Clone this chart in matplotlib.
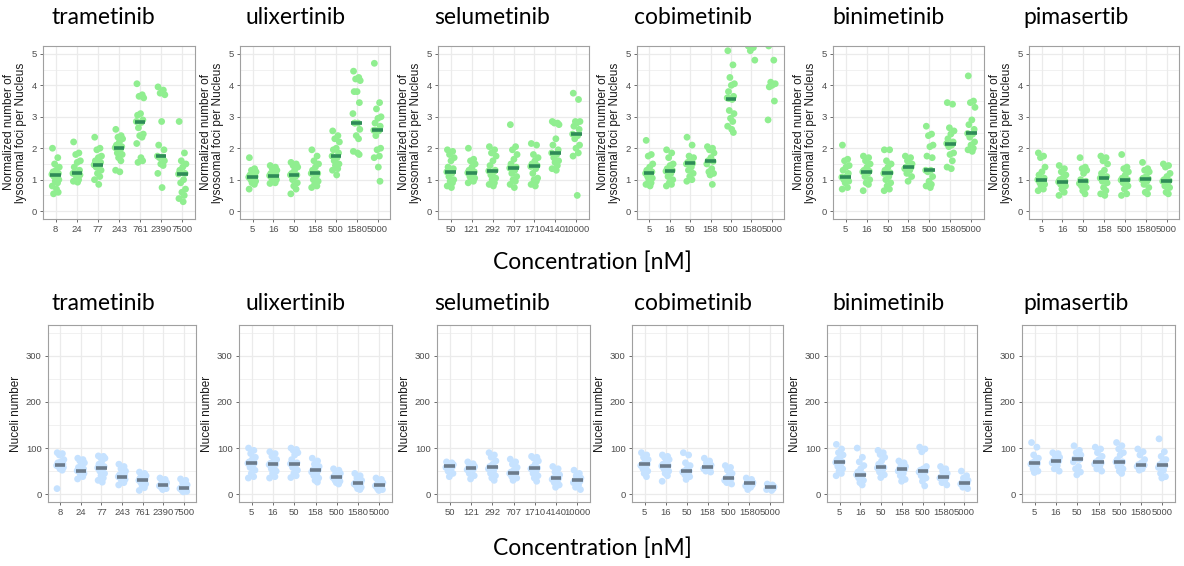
import matplotlib
matplotlib.use("Agg")
import matplotlib.pyplot as plt
import numpy as np

plt.rcParams["font.family"] = ["Liberation Sans", "DejaVu Sans"]

drugs = ["trametinib", "ulixertinib", "selumetinib", "cobimetinib", "binimetinib", "pimasertib"]

conc_trametinib = ["8", "24", "77", "243", "761", "2390", "7500"]
conc_selumetinib = ["50", "121", "292", "707", "1710", "4140", "10000"]
conc_other = ["5", "16", "50", "158", "500", "1580", "5000"]
concs = [conc_trametinib, conc_other, conc_selumetinib, conc_other, conc_other, conc_other]

# normalized lysosomal foci per nucleus (top row)
foci_trametinib = [
    [2.0, 1.7, 1.5, 1.4, 1.3, 1.25, 1.2, 1.17, 1.15, 1.1, 1.0, 0.95, 0.9, 0.8, 0.7, 0.6, 0.55],
    [2.2, 1.85, 1.8, 1.6, 1.55, 1.4, 1.3, 1.2, 1.2, 1.2, 1.15, 1.1, 1.0, 0.95, 0.92],
    [2.35, 2.0, 1.95, 1.75, 1.7, 1.6, 1.55, 1.47, 1.45, 1.4, 1.3, 1.2, 1.1, 1.0, 0.85],
    [2.6, 2.4, 2.35, 2.3, 2.2, 2.1, 2.05, 2.02, 1.95, 1.85, 1.8, 1.7, 1.6, 1.3, 1.25],
    [4.05, 3.7, 3.65, 3.6, 3.1, 3.05, 2.9, 2.85, 2.82, 2.65, 2.45, 2.4, 2.35, 2.15, 1.7, 1.6, 1.55],
    [3.95, 3.85, 3.75, 3.7, 2.85, 2.1, 1.95, 1.75, 1.72, 1.7, 1.6, 1.5, 1.45, 1.2, 0.75],
    [2.85, 1.85, 1.6, 1.5, 1.4, 1.3, 1.2, 1.18, 1.0, 0.9, 0.7, 0.6, 0.5, 0.4, 0.3],
]
foci_ulixertinib = [
    [1.7, 1.35, 1.3, 1.25, 1.2, 1.15, 1.1, 1.08, 1.05, 1.0, 0.95, 0.9, 0.85, 0.7, 1.08],
    [1.45, 1.4, 1.35, 1.3, 1.25, 1.2, 1.15, 1.13, 1.1, 1.05, 1.0, 0.95, 0.9, 0.88, 1.13],
    [1.55, 1.5, 1.45, 1.4, 1.3, 1.2, 1.15, 1.15, 1.1, 1.0, 0.9, 0.8, 0.7, 0.55, 1.15],
    [1.95, 1.75, 1.6, 1.5, 1.4, 1.3, 1.2, 1.2, 1.1, 1.0, 0.95, 0.85, 0.8, 0.75, 1.2],
    [2.55, 2.4, 2.3, 2.2, 2.0, 1.95, 1.85, 1.75, 1.7, 1.6, 1.5, 1.45, 1.35, 1.3, 1.15],
    [4.45, 4.25, 4.2, 4.15, 3.8, 3.8, 3.45, 3.1, 2.8, 2.8, 2.6, 2.4, 2.3, 1.9, 1.85, 1.8, 2.8],
    [4.7, 3.45, 3.25, 3.0, 2.95, 2.8, 2.7, 2.57, 2.55, 2.4, 2.0, 1.95, 1.75, 1.7, 1.4, 0.95, 2.57],
]
foci_selumetinib = [
    [1.95, 1.9, 1.8, 1.7, 1.6, 1.4, 1.35, 1.25, 1.2, 1.1, 1.0, 0.95, 0.9, 0.8, 0.75],
    [2.0, 1.65, 1.6, 1.5, 1.4, 1.3, 1.25, 1.22, 1.15, 1.1, 1.05, 1.0, 0.95, 0.9, 1.22],
    [2.05, 1.95, 1.85, 1.75, 1.6, 1.45, 1.3, 1.28, 1.25, 1.15, 1.05, 1.0, 0.9, 0.85, 0.8],
    [2.75, 2.05, 1.95, 1.8, 1.65, 1.5, 1.4, 1.37, 1.3, 1.2, 1.1, 1.0, 0.95, 0.85, 0.75],
    [2.15, 2.1, 1.8, 1.7, 1.6, 1.5, 1.45, 1.42, 1.35, 1.2, 1.05, 1.0, 0.95, 0.85, 0.8],
    [2.85, 2.8, 2.8, 2.75, 2.3, 2.1, 1.95, 1.85, 1.8, 1.7, 1.6, 1.55, 1.45, 1.35, 1.3],
    [3.75, 3.55, 2.85, 2.85, 2.8, 2.7, 2.6, 2.45, 2.4, 2.3, 2.1, 2.0, 1.85, 1.75, 0.5],
]
foci_cobimetinib = [
    [2.25, 1.8, 1.75, 1.5, 1.4, 1.3, 1.25, 1.2, 1.15, 1.1, 1.05, 1.0, 0.9, 0.85, 0.8],
    [1.95, 1.85, 1.7, 1.5, 1.45, 1.35, 1.3, 1.27, 1.2, 1.1, 1.0, 0.9, 0.85, 0.8, 1.27],
    [2.35, 2.1, 1.75, 1.7, 1.65, 1.55, 1.52, 1.5, 1.4, 1.3, 1.2, 1.1, 1.0, 0.95, 1.52],
    [2.05, 2.0, 1.95, 1.85, 1.7, 1.6, 1.58, 1.5, 1.35, 1.25, 1.2, 1.15, 0.85],
    [5.1, 4.65, 4.25, 4.05, 4.0, 3.8, 3.65, 3.6, 3.55, 3.2, 3.1, 2.95, 2.85, 2.7, 2.6, 2.5, 3.58],
    [5.25, 5.2, 5.1, 4.8, 5.6, 5.9, 6.3, 6.8],
    [5.25, 4.8, 4.1, 4.05, 4.0, 3.95, 3.5, 2.9, 5.4, 5.6, 5.8, 6.0, 6.2, 6.5, 6.8, 7.0, 7.5],
]
foci_binimetinib = [
    [2.1, 1.65, 1.6, 1.45, 1.4, 1.3, 1.2, 1.08, 1.05, 1.0, 0.95, 0.9, 0.75, 0.7, 1.1],
    [1.75, 1.7, 1.6, 1.5, 1.4, 1.3, 1.27, 1.25, 1.2, 1.1, 1.0, 0.9, 0.85, 0.65, 1.26],
    [1.95, 1.95, 1.6, 1.5, 1.4, 1.3, 1.22, 1.2, 1.1, 1.0, 0.9, 0.8, 0.7, 0.65, 1.21],
    [1.75, 1.7, 1.6, 1.5, 1.45, 1.4, 1.4, 1.35, 1.3, 1.2, 1.1, 0.95, 1.4],
    [2.7, 2.45, 2.4, 2.1, 2.05, 1.75, 1.7, 1.3, 1.3, 1.25, 1.1, 0.95, 0.85, 0.8, 0.75],
    [3.45, 3.4, 2.65, 2.55, 2.45, 2.3, 2.2, 2.15, 2.1, 2.05, 1.85, 1.8, 1.6, 1.4, 1.35],
    [4.3, 3.5, 3.45, 3.3, 2.9, 2.75, 2.6, 2.47, 2.45, 2.35, 2.2, 2.1, 2.0, 1.95, 1.9],
]
foci_pimasertib = [
    [1.85, 1.75, 1.7, 1.4, 1.25, 1.15, 1.05, 1.0, 0.95, 0.9, 0.85, 0.8, 0.7, 0.65, 1.0],
    [1.45, 1.35, 1.25, 1.15, 1.05, 1.0, 0.95, 0.93, 0.9, 0.85, 0.8, 0.7, 0.6, 0.5, 0.93],
    [1.7, 1.4, 1.35, 1.3, 1.2, 1.0, 0.95, 0.88, 0.85, 0.8, 0.75, 0.65, 0.55],
    [1.75, 1.7, 1.6, 1.5, 1.3, 1.2, 1.1, 1.05, 1.0, 0.95, 0.9, 0.75, 0.65, 0.55, 0.5],
    [1.8, 1.4, 1.35, 1.25, 1.15, 1.05, 1.0, 0.99, 0.95, 0.9, 0.8, 0.7, 0.55, 0.5, 0.99],
    [1.55, 1.35, 1.3, 1.25, 1.1, 1.05, 1.03, 1.0, 0.95, 0.85, 0.75, 0.6, 0.55],
    [1.5, 1.45, 1.4, 1.2, 1.1, 1.0, 0.97, 0.95, 0.9, 0.8, 0.75, 0.6, 0.55],
]

# nuclei counts (bottom row)
nuclei_trametinib = [
    [90, 88, 85, 75, 70, 68, 65, 62, 62, 60, 58, 55, 52, 12],
    [78, 75, 72, 68, 62, 58, 55, 51, 50, 48, 45, 42, 38, 33, 51],
    [83, 82, 80, 78, 72, 65, 60, 57, 55, 50, 45, 40, 35, 30, 26],
    [65, 60, 55, 50, 45, 42, 40, 38, 37, 35, 32, 28, 25, 20, 38],
    [48, 45, 42, 40, 38, 35, 32, 30, 28, 25, 22, 18, 14, 8, 30],
    [35, 32, 28, 25, 22, 20, 20, 18, 16, 14, 12, 10, 20],
    [33, 30, 25, 20, 16, 14, 13, 12, 10, 8, 6, 5, 13],
]
nuclei_ulixertinib = [
    [100, 95, 88, 80, 75, 70, 68, 67, 62, 58, 52, 45, 38, 35, 68],
    [92, 88, 82, 75, 70, 67, 65, 64, 60, 55, 50, 45, 38, 35, 65],
    [100, 97, 95, 90, 85, 75, 68, 66, 62, 58, 52, 45, 40, 36, 66],
    [78, 72, 65, 60, 56, 53, 52, 48, 45, 40, 35, 30, 26],
    [55, 52, 48, 45, 42, 39, 38, 36, 34, 30, 28, 25, 22],
    [45, 40, 35, 30, 27, 25, 24, 22, 20, 18, 15, 12, 10],
    [35, 32, 28, 25, 22, 20, 19, 18, 15, 12, 10, 8, 19],
]
nuclei_selumetinib = [
    [70, 68, 66, 64, 62, 62, 60, 58, 55, 50, 45, 38, 62],
    [70, 66, 62, 60, 58, 57, 56, 53, 50, 45, 40, 33, 56],
    [90, 85, 80, 72, 65, 60, 58, 55, 50, 45, 40, 35, 30],
    [76, 70, 65, 58, 52, 48, 47, 45, 42, 38, 35, 30, 47],
    [82, 80, 78, 72, 65, 58, 57, 55, 50, 45, 40, 35, 28],
    [60, 55, 48, 42, 38, 35, 35, 32, 28, 25, 20, 15, 35],
    [52, 45, 40, 35, 32, 30, 28, 25, 20, 15, 10],
]
nuclei_cobimetinib = [
    [90, 85, 80, 75, 70, 65, 65, 62, 58, 55, 50, 45, 38],
    [85, 82, 80, 75, 70, 65, 62, 61, 58, 55, 50, 45, 40, 28, 61],
    [90, 85, 68, 62, 55, 50, 50, 48, 45, 42, 38, 32, 50],
    [78, 72, 68, 63, 60, 58, 57, 55, 52, 50, 48],
    [62, 58, 52, 45, 40, 35, 34, 30, 28, 25, 22],
    [35, 32, 28, 25, 24, 23, 20, 18, 15, 10, 24],
    [22, 20, 18, 16, 15, 15, 12, 10, 8],
]
nuclei_binimetinib = [
    [108, 98, 90, 85, 80, 75, 70, 69, 65, 60, 55, 50, 45, 40, 69],
    [100, 80, 70, 62, 55, 48, 43, 42, 38, 35, 30, 25, 20, 42],
    [95, 90, 86, 80, 72, 65, 58, 57, 52, 48, 42, 36, 57],
    [72, 68, 64, 60, 56, 55, 54, 50, 45, 40, 32, 28, 55],
    [102, 98, 92, 60, 55, 52, 50, 48, 45, 40, 35, 28, 18],
    [60, 55, 50, 45, 40, 38, 37, 35, 30, 25, 20],
    [50, 40, 35, 30, 28, 25, 24, 22, 18, 15, 12],
]
nuclei_pimasertib = [
    [112, 102, 85, 78, 72, 68, 67, 65, 60, 55, 50, 47, 67],
    [90, 88, 85, 80, 75, 73, 72, 68, 62, 55, 50],
    [105, 95, 90, 85, 80, 77, 76, 70, 60, 55, 48, 42, 76],
    [102, 98, 90, 82, 75, 70, 68, 65, 60, 55, 50],
    [112, 105, 98, 90, 85, 75, 70, 70, 65, 60, 55, 50, 45],
    [98, 92, 85, 75, 68, 64, 63, 60, 55, 52, 63],
    [120, 92, 82, 75, 70, 64, 62, 58, 52, 45, 38, 35],
]

foci = [foci_trametinib, foci_ulixertinib, foci_selumetinib, foci_cobimetinib, foci_binimetinib, foci_pimasertib]
nuclei = [nuclei_trametinib, nuclei_ulixertinib, nuclei_selumetinib, nuclei_cobimetinib, nuclei_binimetinib, nuclei_pimasertib]

# fixed horizontal jitter pattern
jit = [-0.15, 0.10, -0.05, 0.17, 0.02, -0.12, 0.13, -0.18, 0.06, -0.08, 0.15, -0.02, 0.09, -0.16, 0.04, 0.12, -0.10]

W, H = 1184, 566
fig = plt.figure(figsize=(W / 100, H / 100), dpi=100)

top_x = [(43, 195), (240, 390), (438, 589), (637, 784), (833, 984), (1029, 1179)]
bot_x = [(48, 196), (239, 392), (437, 590), (632, 783), (827, 977), (1022, 1175)]
top_y = (46, 219)
bot_y = (325, 502)
title_x = [103, 296, 492, 693, 888, 1076]


def panel(px, py, groups, labels, ylim, major, minor, ylabel, pcol, mcol):
    ax = fig.add_axes([px[0] / W, 1 - py[1] / H, (px[1] - px[0]) / W, (py[1] - py[0]) / H])
    for i, vals in enumerate(groups):
        xs = [i + 1 + jit[k % len(jit)] for k in range(len(vals))]
        ax.scatter(xs, vals, s=24, color=pcol, edgecolors="none", zorder=2)
        med = np.median(vals)
        ax.plot([i + 0.75, i + 1.25], [med, med], color=mcol, lw=2.6, solid_capstyle="butt", zorder=3)
    ax.set_xlim(0.4, 7.6)
    ax.set_ylim(*ylim)
    ax.set_xticks(range(1, 8))
    ax.set_xticklabels(labels)
    ax.set_yticks(major)
    ax.set_yticks(minor, minor=True)
    ax.grid(True, which="major", color="#EBEBEB", lw=0.9, zorder=0)
    ax.grid(True, which="minor", axis="y", color="#EBEBEB", lw=0.5, zorder=0)
    ax.set_axisbelow(True)
    ax.tick_params(axis="both", which="major", length=2.5, width=0.6, color="#555555",
                   labelsize=6.8, labelcolor="#4D4D4D", pad=2)
    ax.tick_params(axis="both", which="minor", length=0)
    for s in ax.spines.values():
        s.set_color("#A0A0A0")
        s.set_linewidth(0.8)
    ax.set_ylabel(ylabel, fontsize=8.5, color="#1A1A1A", labelpad=3, linespacing=1.0)
    return ax


for j in range(6):
    panel(top_x[j], top_y, foci[j], concs[j], (-0.25, 5.25), [0, 1, 2, 3, 4, 5],
          [0.5, 1.5, 2.5, 3.5, 4.5], "Normalized number of\nlysosomal foci per Nucleus",
          "#90EE90", "#2E8B57")
    fig.text(title_x[j] / W, 1 - 18 / H, drugs[j], fontsize=16.5, family="Lato",
             ha="center", va="center")
    panel(bot_x[j], bot_y, nuclei[j], concs[j], (-17, 367), [0, 100, 200, 300],
          [50, 150, 250, 350], "Nuceli number", "#C6E2FF", "#6C7B8B")
    fig.text(title_x[j] / W, 1 - 303 / H, drugs[j], fontsize=16.5, family="Lato",
             ha="center", va="center")

fig.text(592 / W, 1 - 262 / H, "Concentration [nM]", fontsize=16.5, family="Lato", ha="center", va="center")
fig.text(592 / W, 1 - 548 / H, "Concentration [nM]", fontsize=16.5, family="Lato", ha="center", va="center")

fig.savefig("out.png", dpi=100)
